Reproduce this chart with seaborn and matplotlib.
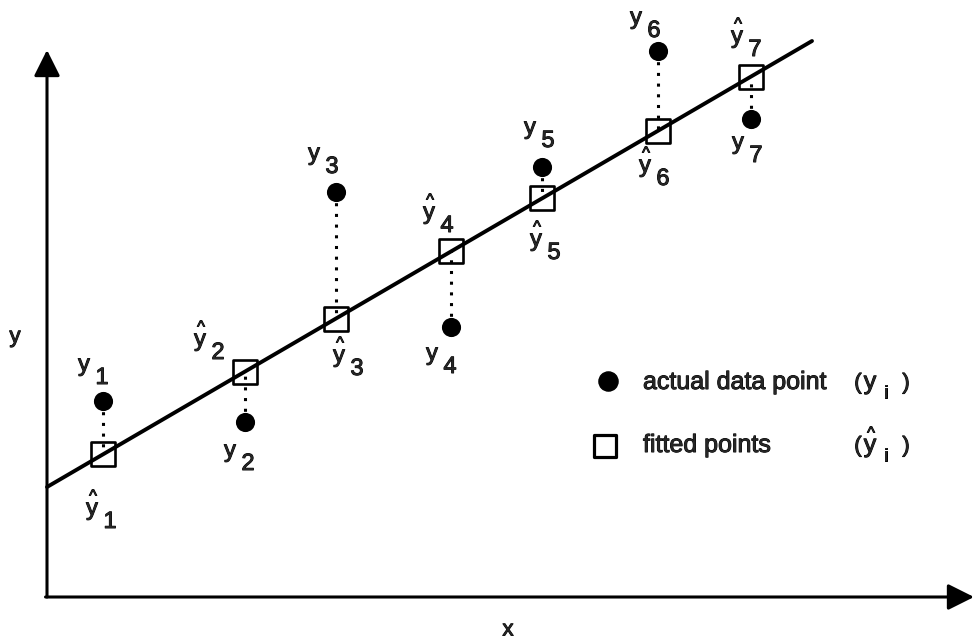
import matplotlib
matplotlib.use("Agg")
import matplotlib.pyplot as plt
import matplotlib.patheffects as pe
import seaborn as sns
import pandas as pd

# Observation positions and values (axis units)
x_obs = [0.56, 1.98, 2.89, 4.04, 4.95, 6.11, 7.04]
y_actual = [1.96, 1.75, 4.05, 2.70, 4.30, 5.46, 4.78]
y_fitted = [1.43, 2.25, 2.78, 3.46, 3.99, 4.66, 5.20]

# End points of the fitted regression line
line_x = [0.0, 7.65]
line_y = [1.10, 5.56]

point_ids = [1, 2, 3, 4, 5, 6, 7]

# Label placement: offset (px) of the "y" glyph centre from its marker
actual_label_offsets = [(-19, -34), (-15, 31), (-22, -36), (-19, 29),
                        (-12, -37), (-22, -31), (-13, 26)]
fitted_label_offsets = [(-11, 57), (-45, -30), (3, 39), (-22, -36),
                        (-6, 44), (-13, 37), (-14, -38)]

sns.set_style("white")
plt.rcParams["font.family"] = ["Liberation Sans", "DejaVu Sans"]

# slightly heavier glyphs, like a photocopied figure
THICK = [pe.withStroke(linewidth=0.7, foreground="black")]

W, H, DPI = 976, 643, 100
fig = plt.figure(figsize=(W / DPI, H / DPI), dpi=DPI)
ax = fig.add_axes([0, 0, 1, 1])

# 1 axis unit = 100 px, origin of the arrows at pixel (47, 597)
ox, oy = 47, 597
ax.set_xlim(-ox / 100, (W - ox) / 100)
ax.set_ylim(-(H - oy) / 100, oy / 100)
ax.set_axis_off()

pts = pd.DataFrame({"x": x_obs, "actual": y_actual, "fitted": y_fitted})
line_df = pd.DataFrame({"x": line_x, "y": line_y})

# regression line
sns.lineplot(data=line_df, x="x", y="y", ax=ax, color="black", lw=2.8,
             legend=False, zorder=3)

# residual connectors
ax.vlines(pts["x"], pts["actual"], pts["fitted"], colors="black",
          linestyles=(0, (1, 2.5)), lw=2.2, zorder=2)

# fitted points (open squares) and observed points (filled circles)
sns.scatterplot(data=pts, x="x", y="fitted", ax=ax, marker="s", s=310,
                facecolor="none", edgecolor="black", linewidth=1.9,
                zorder=4, legend=False)
sns.scatterplot(data=pts, x="x", y="actual", ax=ax, marker="o", s=190,
                color="black", edgecolor="black", linewidth=0,
                zorder=5, legend=False)

# coordinate axes with arrow heads
arrow_kw = dict(arrowstyle="-|>,head_length=0.4,head_width=0.2",
                color="black", lw=2.2, mutation_scale=40,
                shrinkA=0, shrinkB=0)
ax.annotate("", xy=(0, 5.47), xytext=(0, 0), arrowprops=arrow_kw)
ax.annotate("", xy=((W - ox) / 100 - 0.02, 0), xytext=(-0.015, 0),
            arrowprops=arrow_kw)

ax.text(15 / W, 1 - 337 / H, "y", transform=ax.transAxes, fontsize=16,
        ha="center", va="center", path_effects=THICK)
ax.text(508 / W, 1 - 630 / H, "x", transform=ax.transAxes, fontsize=16,
        ha="center", va="center", path_effects=THICK)

FS = 17


def y_label(xv, yv, off, idx, hat):
    dx, dy = off
    base = -(dy + 4)
    ax.annotate("y", (xv, yv), xytext=(dx, base), textcoords="offset pixels",
                ha="center", va="baseline", fontsize=FS, path_effects=THICK)
    ax.annotate(str(idx), (xv, yv), xytext=(dx + 18, base - 13),
                textcoords="offset pixels", ha="center", va="baseline",
                fontsize=FS, path_effects=THICK)
    if hat:
        ax.annotate("^", (xv, yv), xytext=(dx + 1, base + 14),
                    textcoords="offset pixels", ha="center", va="baseline",
                    fontsize=12, path_effects=THICK)


for xv, ya, yf, i, oa, of in zip(x_obs, y_actual, y_fitted, point_ids,
                                 actual_label_offsets, fitted_label_offsets):
    y_label(xv, ya, oa, i, hat=False)
    y_label(xv, yf, of, i, hat=True)


# key
def px(xp, yp):
    return xp / W, 1 - yp / H


ax.scatter(*px(608, 381), transform=ax.transAxes, s=190, marker="o",
           color="black", zorder=5)
ax.scatter(*px(605, 446), transform=ax.transAxes, s=230, marker="s",
           facecolor="none", edgecolor="black", linewidth=2.3, zorder=5)

LF = 18
ax.text(*px(643, 389), "actual data point", transform=ax.transAxes,
        fontsize=LF, ha="left", va="baseline", path_effects=THICK)
ax.text(*px(643, 452), "fitted points", transform=ax.transAxes,
        fontsize=LF, ha="left", va="baseline", path_effects=THICK)

for row_y, hat in ((389, False), (452, True)):
    ax.text(*px(858, row_y), "(", transform=ax.transAxes, fontsize=16,
            ha="center", va="baseline", path_effects=THICK)
    ax.text(*px(870, row_y), "y", transform=ax.transAxes, fontsize=LF,
            ha="center", va="baseline", path_effects=THICK)
    ax.text(*px(886, row_y + 9), "i", transform=ax.transAxes, fontsize=13,
            ha="center", va="baseline", path_effects=THICK)
    ax.text(*px(906, row_y), ")", transform=ax.transAxes, fontsize=16,
            ha="center", va="baseline", path_effects=THICK)
    if hat:
        ax.text(*px(871, row_y - 14), "^", transform=ax.transAxes,
                fontsize=12, ha="center", va="baseline", path_effects=THICK)

fig.savefig("out.png", dpi=DPI, facecolor="white")
